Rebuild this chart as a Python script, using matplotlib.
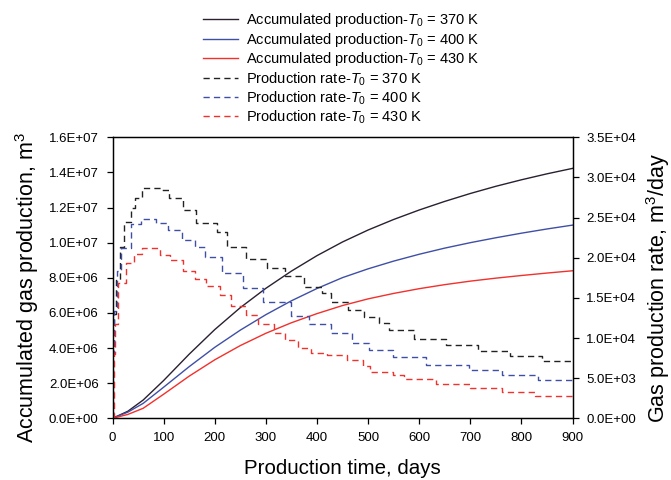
import numpy as np
import matplotlib
matplotlib.use('Agg')
import matplotlib.pyplot as plt
from matplotlib.ticker import FuncFormatter, MultipleLocator

plt.rcParams['font.family'] = ['Liberation Sans', 'DejaVu Sans']
plt.rcParams['mathtext.fontset'] = 'custom'
plt.rcParams['mathtext.rm'] = 'Liberation Sans'
plt.rcParams['mathtext.it'] = 'Liberation Sans:italic'

# ------------------------------------------------------------
# Data
# ------------------------------------------------------------
temps = ['370', '400', '430']

# accumulated production, m3
days_cum = [0, 30, 60, 100, 150, 200, 250, 300, 350, 400, 450,
            500, 550, 600, 650, 700, 750, 800, 850, 900]
cum_370 = [0, 0.40e6, 1.04e6, 2.15e6, 3.65e6, 5.05e6, 6.30e6, 7.40e6, 8.38e6, 9.26e6, 10.04e6,
           10.72e6, 11.32e6, 11.86e6, 12.35e6, 12.80e6, 13.21e6, 13.58e6, 13.92e6, 14.23e6]
cum_400 = [0, 0.35e6, 0.85e6, 1.77e6, 2.94e6, 4.04e6, 5.02e6, 5.90e6, 6.69e6, 7.39e6, 8.01e6,
           8.51e6, 8.95e6, 9.34e6, 9.69e6, 10.00e6, 10.28e6, 10.54e6, 10.78e6, 11.00e6]
cum_430 = [0, 0.22e6, 0.57e6, 1.37e6, 2.40e6, 3.33e6, 4.14e6, 4.84e6, 5.44e6, 5.96e6, 6.42e6,
           6.80e6, 7.11e6, 7.38e6, 7.61e6, 7.81e6, 7.98e6, 8.13e6, 8.27e6, 8.40e6]

# production rate, m3/day (step changes)
days_r370 = [0, 1, 3, 7, 14, 22, 36, 44, 58, 95, 110, 137, 163, 205, 224, 262, 303,
             338, 375, 410, 428, 460, 492, 522, 540, 590, 652, 715, 778, 840, 900]
rate_370 = [0, 9000, 13000, 17200, 21300, 24400, 26200, 27400, 28700, 28400, 27400, 26000,
            24300, 23200, 21300, 19900, 18700, 17700, 16400, 15600, 14500, 13500, 12600,
            11900, 11000, 9900, 9100, 8400, 7700, 7100, 7100]

days_r400 = [0, 1, 3, 8, 16, 36, 56, 86, 108, 136, 161, 181, 215, 255, 295, 350,
             385, 428, 468, 502, 548, 614, 698, 762, 832, 900]
rate_400 = [0, 8000, 13400, 18400, 21200, 24200, 24800, 24300, 23400, 22200, 21300, 20100,
            18100, 16200, 14500, 12800, 11800, 10600, 9400, 8500, 7600, 6600, 6000, 5350,
            4800, 4800]

days_r430 = [0, 2, 4, 10, 26, 42, 58, 92, 112, 137, 162, 183, 210, 232, 262, 285, 315,
             338, 362, 388, 420, 458, 490, 503, 548, 570, 633, 700, 763, 826, 900]
rate_430 = [0, 8000, 11800, 16800, 19300, 20500, 21200, 20300, 19700, 18400, 17300, 16500,
            15400, 14000, 12900, 11700, 10600, 9700, 8800, 8100, 7850, 7200, 6500, 5800,
            5350, 4860, 4300, 3800, 3300, 2750, 2750]

black = '#2a2030'
blue = '#3f4fa6'
red = '#f2302c'

# ------------------------------------------------------------
# Figure
# ------------------------------------------------------------
fig = plt.figure(figsize=(6.71, 4.80), dpi=100)
ax = fig.add_axes([112.5 / 671, 1 - 418.3 / 480, 460 / 671, 281 / 480])
ax2 = ax.twinx()

l1, = ax.plot(days_cum, cum_370, color=black, lw=1.0)
l2, = ax.plot(days_cum, cum_400, color=blue, lw=1.0)
l3, = ax.plot(days_cum, cum_430, color=red, lw=1.0)

d1, = ax2.plot(days_r370, rate_370, color='#222222', lw=1.0, drawstyle='steps-post', dashes=(4.5, 3))
d2, = ax2.plot(days_r400, rate_400, color=blue, lw=1.0, drawstyle='steps-post', dashes=(4.5, 3))
d3, = ax2.plot(days_r430, rate_430, color=red, lw=1.0, drawstyle='steps-post', dashes=(4.5, 3))

ax.set_xlim(0, 900)
ax.set_ylim(0, 1.6e7)
ax2.set_ylim(0, 3.5e4)
ax.xaxis.set_major_locator(MultipleLocator(100))
ax.yaxis.set_major_locator(MultipleLocator(2e6))
ax2.yaxis.set_major_locator(MultipleLocator(5e3))

sci = FuncFormatter(lambda v, pos: f'{v:.1E}')
ax.yaxis.set_major_formatter(sci)
ax2.yaxis.set_major_formatter(sci)

for a in (ax, ax2):
    a.tick_params(direction='out', length=4, width=0.9, labelsize=9.5, pad=6)
    for sp in a.spines.values():
        sp.set_linewidth(0.9)
        sp.set_color('black')

fig.text(27 / 671, 1 - 287 / 480, 'Accumulated gas production, m$^3$',
         rotation=90, ha='center', va='center', fontsize=15.5)
fig.text(658 / 671, 1 - 288 / 480, 'Gas production rate, m$^3$/day',
         rotation=90, ha='center', va='center', fontsize=15.5)
fig.text(342 / 671, 1 - 468 / 480, 'Production time, days',
         ha='center', va='center', fontsize=14.8)

handles = [l1, l2, l3, d1, d2, d3]
labels = [f'Accumulated production-$T_0$ = {t} K' for t in temps] + \
         [f'Production rate-$T_0$ = {t} K' for t in temps]
fig.legend(handles, labels, loc='upper left', bbox_to_anchor=(203 / 671, 1 - 11 / 480),
           frameon=False, fontsize=10.5, handlelength=2.4, handletextpad=0.55,
           labelspacing=0.12, borderpad=0, borderaxespad=0)

fig.savefig('out.png', dpi=100)
